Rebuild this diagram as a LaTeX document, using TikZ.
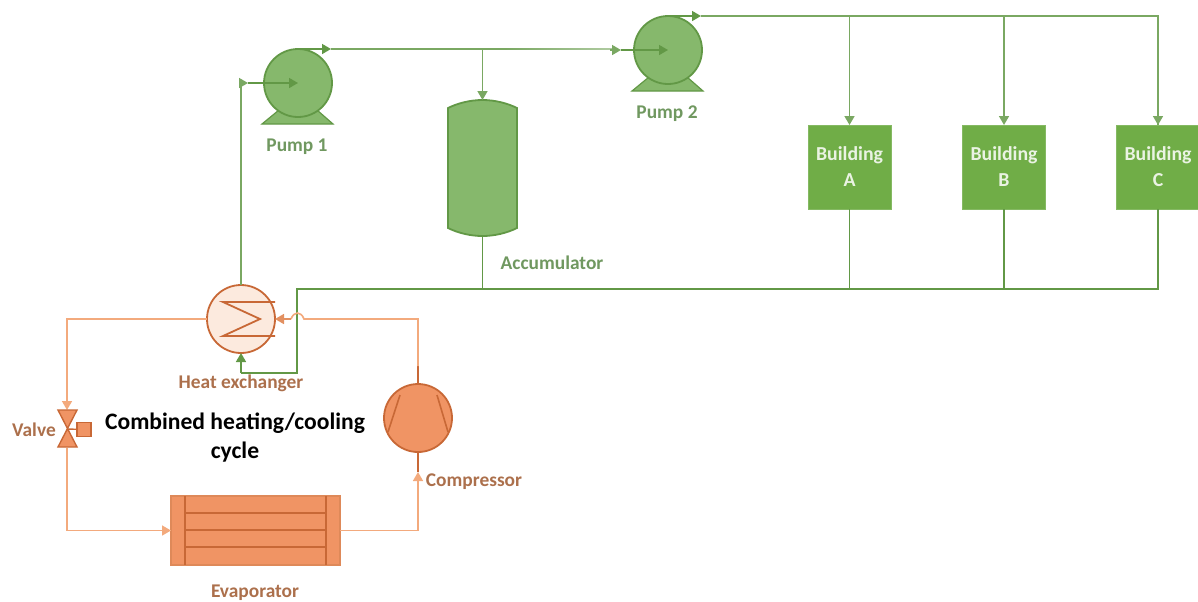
\documentclass[tikz,border=0pt]{standalone}
\usepackage{fontspec}
\setmainfont{Carlito}
\usepackage{xcolor}
\usepackage{tikz}
\usetikzlibrary{arrows.meta, positioning, calc, shapes.geometric}
\definecolor{grnfill}{RGB}{134,184,108}
\definecolor{grnline}{RGB}{98,152,70}
\definecolor{grnpipe}{RGB}{122,168,98}
\definecolor{grnbldg}{RGB}{112,173,71}
\definecolor{grntext}{RGB}{112,152,96}
\definecolor{orgfill}{RGB}{240,148,100}
\definecolor{orglite}{RGB}{252,234,222}
\definecolor{orgline}{RGB}{200,104,54}
\definecolor{orgpipe}{RGB}{243,170,125}
\definecolor{orgtext}{RGB}{172,112,76}

\begin{document}
\begin{tikzpicture}[x=0.5pt, y=-0.5pt, outer sep=0pt,
  pump/.style={circle, draw=grnline, fill=grnfill, line width=0.9pt,
    minimum size=34pt, inner sep=0pt},
  bldg/.style={draw=grnbldg!85, fill=grnbldg, minimum width=41.5pt, minimum height=42pt,
    inner sep=0pt, align=center, text=white!85!grnbldg, font=\fontsize{9.9}{13}\selectfont\bfseries},
  lbl/.style={text=#1, font=\fontsize{9.7}{11}\selectfont\bfseries, inner sep=0pt},
  tube/.style={orgline, line width=0.8pt},
  pipe/.style={line width=0.8pt, draw=#1},
  arr/.style={-{Triangle[length=4.5pt, width=5pt]}, line width=0.8pt, draw=#1}
]
\useasboundingbox (0,0) rectangle (1198,601);
% Green loop
\fill[grnfill, draw=grnline, line width=0.6pt] (262,124) -- (279,110) -- (317,110) -- (333,124) -- cycle;
\fill[grnfill, draw=grnline, line width=0.6pt] (632,91) -- (649,77) -- (687,77) -- (703,91) -- cycle;
\node[pump] (pumpa) at (298,83) {};
\node[pump] (pumpb) at (668,50) {};
\node[minimum width=34.5pt, minimum height=68pt, inner sep=0pt] (accu) at (482.5,168) {};
\node[bldg] (blda) at (849.5,167) {Building\\A};
\node[bldg] (bldb) at (1004,167) {Building\\B};
\node[bldg] (bldc) at (1158,167) {Building\\C};
\node[circle, draw=orgline, fill=orglite, line width=0.9pt,
  minimum size=34pt, inner sep=0pt] (hex) at (241,319) {};
\node[circle, draw=orgline, fill=orgfill, line width=0.9pt,
  minimum size=34pt, inner sep=0pt] (comp) at (418,418) {};
\node[draw=orgpipe!50!orgline, fill=orgfill, line width=0.8pt, minimum width=84.5pt,
  minimum height=34.5pt, inner sep=0pt] (evap) at (255.5,530.5) {};
\coordinate (valve) at (67,429);
% Accumulator body
\draw[draw=grnline, fill=grnfill, line width=0.9pt] ($(accu.north west)+(0,8)$)
  .. controls +(10,-5) and +(-12,0) .. (accu.north)
  .. controls +(12,0) and +(-10,-5) .. ($(accu.north east)+(0,8)$)
  -- ($(accu.south east)+(0,-8)$)
  .. controls +(-10,5) and +(12,0) .. (accu.south)
  .. controls +(-12,0) and +(10,5) .. ($(accu.south west)+(0,-8)$) -- cycle;
% Hot side
\coordinate (inleta) at (248,83);
\coordinate (inletb) at (621,50);
\coordinate (outa) at ($(pumpa.north)+(33,0)$);
\coordinate (outb) at ($(pumpb.north)+(33,0)$);
\coordinate (fadea) at (505,49);
\draw[arr=grnpipe] (hex.north) |- (inleta);
\draw[arr=grnline] (inleta) -- (pumpa.center);
\draw[arr=grnline] (pumpa.north) -- (outa);
\draw[pipe=grnpipe] (outa) -- (fadea);
\shade[left color=grnpipe, middle color=grnpipe!35, right color=grnpipe!60] (505,48.2) rectangle (612,49.8);
\draw[arr=grnpipe] (610,50) -- (inletb);
\draw[arr=grnline] (inletb) -- (pumpb.center);
\draw[arr=grnpipe] (outa -| accu.north) -- (accu.north);
\draw[arr=grnline] (pumpb.north) -- (outb);
\draw[pipe=grnpipe] (outb) -| (bldc.north);
\draw[arr=grnpipe] (outb -| bldc.north) -- (bldc.north);
\draw[arr=grnpipe] (outb -| blda.north) -- (blda.north);
\draw[arr=grnpipe] (outb -| bldb.north) -- (bldb.north);
% Return
\coordinate (retn) at (297,289);
\coordinate (rett) at (297,373);
\draw[pipe=grnline] (bldc.south) |- (retn) -- (rett) -- (rett -| hex.south);
\draw[arr=grnline] (rett -| hex.south) -- (hex.south);
\draw[pipe=grnline] (blda.south) -- (blda.south |- retn);
\draw[pipe=grnline] (bldb.south) -- (bldb.south |- retn);
\draw[pipe=grnline] (accu.south) -- (accu.south |- retn);
% Exchanger coil
\draw[orgline, line width=0.9pt] (275,302) -- (223,302) -- (260,319) -- (223,336) -- (275,336);
% Orange loop
\coordinate (vtop) at (67,410);
\coordinate (vbot) at (67,448);
\coordinate (jumpr) at (304,319);
\coordinate (jumpl) at (291,319);
\coordinate (cmpin) at (418,472);
\coordinate (cmpout) at (418,366);
\draw[arr=orgpipe] (hex.west) -| (vtop);
\draw[pipe=orgpipe] (vbot) |- (evap.west);
\draw[arr=orgpipe] (150,530.5) -- (evap.west);
\draw[arr=orgpipe] (evap.east) -| (cmpin);
\draw[tube] (comp.south) -- (cmpin);
\draw[tube] (comp.north) -- (cmpout);
\draw[pipe=orgpipe] (cmpout) |- (jumpr) .. controls +(-3,-8) and +(3,-8) .. (jumpl);
\draw[arr=orgpipe!60!orgline] (jumpl) -- (hex.east);
% Valve
\node[draw=orgline, fill=orgfill, line width=0.7pt, minimum size=7pt, inner sep=0pt] (vact) at (84,429.5) {};
\draw[orgline, line width=0.7pt] (valve) -- (vact);
\draw[orgline, fill=orgfill, line width=0.7pt] (58,410) -- (77,410) -- (58,447) -- (77,447) -- cycle;
% Compressor vanes
\draw[tube] (400,395) -- (388,432);
\draw[tube] (437,395) -- (448,432);
% Evaporator tubes
\draw[tube] (185,496) -- (185,565);
\draw[tube] (326,496) -- (326,565);
\draw[tube] (185,513) -- (326,513);
\draw[tube] (185,530) -- (326,530);
\draw[tube] (185,547) -- (326,547);
% Labels
\node[lbl=grntext] (lpumpa) at (297,146.5) {Pump 1};
\node[lbl=grntext] (lpumpb) at (667,113.5) {Pump 2};
\node[lbl=grntext] (laccu) at (552,263) {Accumulator};
\node[lbl=orgtext] (lhex) at (241,383) {Heat exchanger};
\node[lbl=orgtext] (lcomp) at (474,481.5) {Compressor};
\node[lbl=orgtext] (levap) at (255,593) {Evaporator};
\node[lbl=orgtext] (lvalve) at (34,430) {Valve};
\node[font=\fontsize{11.8}{14.5}\selectfont\bfseries, align=center, inner sep=0pt] (title) at (235,438) {Combined heating/cooling\\cycle};
\end{tikzpicture}
\end{document}
